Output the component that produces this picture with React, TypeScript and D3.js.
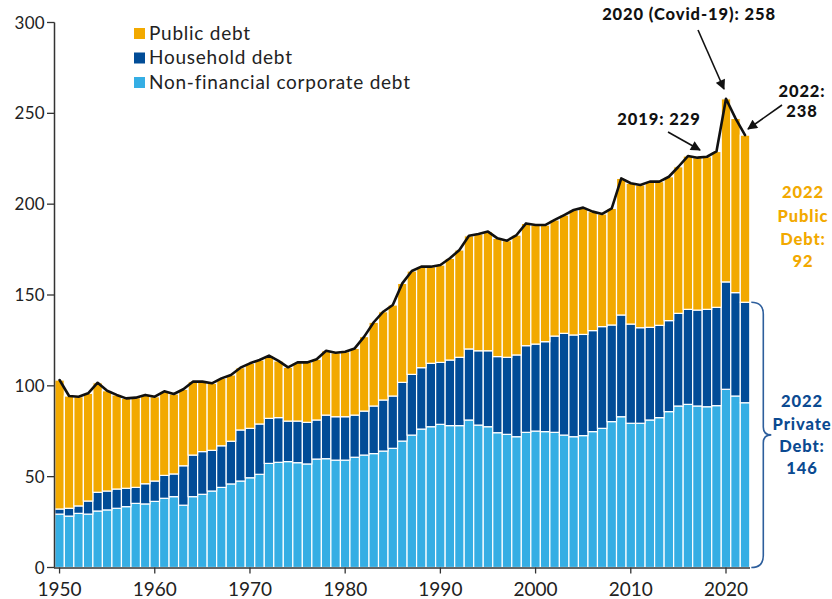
import React from 'react';
import * as d3 from 'd3';

const years: number[] = d3.range(1950, 2023);

const corporate = [
  29.4, 28.3, 29.8, 29.4, 31.1, 31.7, 32.6, 33.5, 35.3, 35.0,
  36.4, 38.1, 39.0, 34.3, 39.0, 40.3, 42.1, 44.1, 46.0, 47.6,
  49.4, 51.3, 57.3, 57.9, 58.3, 57.7, 57.0, 59.7, 59.9, 59.1,
  59.1, 60.7, 61.9, 62.7, 64.1, 65.6, 69.6, 72.9, 76.2, 77.5,
  78.8, 78.1, 78.1, 81.2, 78.4, 77.5, 74.2, 73.3, 72.0, 74.4,
  75.1, 74.8, 74.4, 72.9, 72.0, 72.6, 74.8, 76.6, 80.3, 83.0,
  79.4, 79.4, 81.2, 82.5, 85.8, 88.9, 89.8, 88.9, 88.5, 89.1,
  98.1, 94.4, 90.7,
];

const household = [
  2.8, 4.3, 4.1, 7.2, 10.3, 10.4, 10.6, 10.1, 8.8, 11.1,
  11.2, 12.6, 12.5, 21.7, 22.9, 23.5, 22.4, 22.9, 23.5, 28.1,
  27.2, 27.7, 24.8, 24.6, 22.3, 22.9, 22.9, 21.5, 24.0, 23.9,
  23.9, 23.2, 24.2, 26.2, 28.1, 28.8, 32.3, 33.4, 33.8, 34.9,
  34.1, 36.1, 37.6, 39.1, 40.9, 41.8, 41.9, 42.4, 45.0, 47.7,
  47.9, 49.5, 53.0, 56.0, 56.0, 55.7, 55.6, 56.0, 53.2, 56.0,
  54.6, 52.6, 51.0, 50.8, 50.1, 51.0, 52.3, 52.8, 53.6, 54.1,
  59.1, 56.9, 55.3,
];

const publicDebt = [
  71.0, 61.8, 60.1, 59.3, 60.3, 55.2, 51.8, 49.5, 49.4, 48.9,
  46.4, 46.3, 44.0, 42.1, 40.4, 38.5, 36.9, 37.1, 36.5, 34.3,
  35.8, 35.2, 34.5, 31.2, 29.6, 32.3, 33.0, 33.4, 35.4, 35.2,
  35.8, 36.7, 41.0, 46.1, 48.6, 50.1, 54.5, 56.9, 55.6, 53.2,
  53.6, 56.0, 59.1, 62.3, 64.3, 65.6, 65.1, 64.2, 66.0, 67.3,
  65.5, 64.2, 63.9, 65.1, 68.8, 69.8, 65.5, 62.0, 64.2, 75.2,
  77.5, 78.6, 80.2, 79.1, 79.2, 80.7, 84.4, 83.9, 84.0, 85.8,
  100.8, 95.9, 92.0,
];

const yTicks = [0, 50, 100, 150, 200, 250, 300];
const xTicks = [1950, 1960, 1970, 1980, 1990, 2000, 2010, 2020];

const seriesKeys = ['corporate', 'household', 'public'];
const legendItems = [
  { key: 'public', label: 'Public debt' },
  { key: 'household', label: 'Household debt' },
  { key: 'corporate', label: 'Non-financial corporate debt' },
];

const COLORS: Record<string, string> = {
  public: '#F2A900',
  household: '#014C97',
  corporate: '#35AEE4',
};

const FONT = "Lato, 'Open Sans', 'Noto Sans', sans-serif";

export default function App() {
  const W = 832;
  const H = 599;
  const x = d3.scaleBand<number>().domain(years).range([54.8, 749.8]).padding(0);
  const y = d3.scaleLinear().domain([0, 300]).range([567.5, 22.5]);
  const bw = x.bandwidth();

  const rows = years.map((yr, i) => ({
    year: yr,
    corporate: corporate[i],
    household: household[i],
    public: publicDebt[i],
  }));
  const stacked = d3.stack<any>().keys(seriesKeys)(rows);
  const totals = rows.map((r) => r.corporate + r.household + r.public);
  const lineGen = d3
    .line<number>()
    .x((_, i) => (x(years[i]) as number) + bw / 2)
    .y((d) => y(d));

  const axisColor = '#333';
  const last = rows.length - 1;
  const privateTop = y(corporate[last] + household[last]);
  const base = y(0);
  const bx0 = (x(2022) as number) + bw + 1.5;
  const bx1 = bx0 + 12;
  const mid = (privateTop + base) / 2;
  const bracePath = `M ${bx0} ${privateTop} Q ${bx1} ${privateTop} ${bx1} ${privateTop + 12}
    L ${bx1} ${mid - 8} Q ${bx1} ${mid} ${bx1 + 8} ${mid} Q ${bx1} ${mid} ${bx1} ${mid + 8}
    L ${bx1} ${base - 12} Q ${bx1} ${base} ${bx0} ${base}`;

  return (
    <svg
      width={W}
      height={H}
      style={{ position: 'absolute', left: 0, top: 0, background: '#fff' }}
      fontFamily={FONT}
    >
      <defs>
        <marker
          id="arrow"
          viewBox="0 0 10 10"
          refX="9"
          refY="5"
          markerWidth="11"
          markerHeight="10"
          markerUnits="userSpaceOnUse"
          orient="auto"
        >
          <path d="M0,0 L10,5 L0,10 z" fill="#111" />
        </marker>
      </defs>
      <rect x={0} y={0} width={W} height={H} fill="#fff" />

      {/* bars */}
      {stacked.map((s) => (
        <g key={s.key} fill={COLORS[s.key]}>
          {s.map((d, i) => (
            <rect
              key={i}
              x={x(years[i]) as number}
              y={y(d[1])}
              width={bw}
              height={y(d[0]) - y(d[1])}
              stroke="#fff"
              strokeWidth={1.2}
            />
          ))}
        </g>
      ))}

      {/* total line */}
      <path
        d={lineGen(totals) as string}
        fill="none"
        stroke="#111"
        strokeWidth={2.6}
        strokeLinejoin="round"
        strokeLinecap="round"
      />

      {/* y axis */}
      <line x1={54.5} x2={54.5} y1={y(300)} y2={y(0)} stroke={axisColor} strokeWidth={1.5} />
      {yTicks.map((t) => (
        <g key={t}>
          <line x1={47} x2={54.5} y1={y(t)} y2={y(t)} stroke={axisColor} strokeWidth={1.3} />
          <text x={45} y={y(t)} dy="0.36em" textAnchor="end" fontSize={17} fill="#222" letterSpacing={0.3}>
            {t}
          </text>
        </g>
      ))}

      {/* x axis */}
      <line x1={54} x2={750} y1={y(0) + 0.5} y2={y(0) + 0.5} stroke={axisColor} strokeWidth={1.5} />
      {xTicks.map((t) => {
        const cx = (x(t) as number) + bw / 2;
        return (
          <g key={t}>
            <line x1={cx} x2={cx} y1={y(0)} y2={y(0) + 6} stroke={axisColor} strokeWidth={1.3} />
            <text x={cx} y={596} textAnchor="middle" fontSize={19} fill="#222">
              {t}
            </text>
          </g>
        );
      })}

      {/* legend */}
      {legendItems.map((item, i) => (
        <g key={item.key} transform={`translate(134, ${28 + i * 24.5})`}>
          <rect x={0} y={0} width={11} height={11} fill={COLORS[item.key]} />
          <text x={15} y={11.5} fontSize={19} fill="#222" letterSpacing={0.75}>
            {item.label}
          </text>
        </g>
      ))}

      {/* annotations */}
      <g fontWeight={900} fill="#111" fontSize={16.5} letterSpacing={0.9}>
        <text x={689} y={20} textAnchor="middle">2020 (Covid-19): 258</text>
        <text x={659} y={125} textAnchor="middle">2019: 229</text>
        <text x={802} y={97} textAnchor="middle">2022:</text>
        <text x={802} y={117} textAnchor="middle">238</text>
      </g>
      <g stroke="#111" strokeWidth={1.6} fill="none">
        <line x1={698} y1={30} x2={724} y2={89} markerEnd="url(#arrow)" />
        <line x1={668} y1={132} x2={700} y2={150} markerEnd="url(#arrow)" />
        <line x1={782} y1={105} x2={748} y2={129} markerEnd="url(#arrow)" />
      </g>

      <g fontWeight={900} fontSize={16.5} letterSpacing={0.9} textAnchor="middle" fill="#F2A900">
        <text x={803} y={198}>2022</text>
        <text x={803} y={221.5}>Public</text>
        <text x={803} y={245}>Debt:</text>
        <text x={803} y={267}>92</text>
      </g>
      <g fontWeight={900} fontSize={16.5} letterSpacing={0.9} textAnchor="middle" fill="#0B4A91">
        <text x={802} y={407}>2022</text>
        <text x={802} y={429.5}>Private</text>
        <text x={802} y={452}>Debt:</text>
        <text x={802} y={474}>146</text>
      </g>

      <path d={bracePath} fill="none" stroke="#2D5E9C" strokeWidth={1.6} />
    </svg>
  );
}
